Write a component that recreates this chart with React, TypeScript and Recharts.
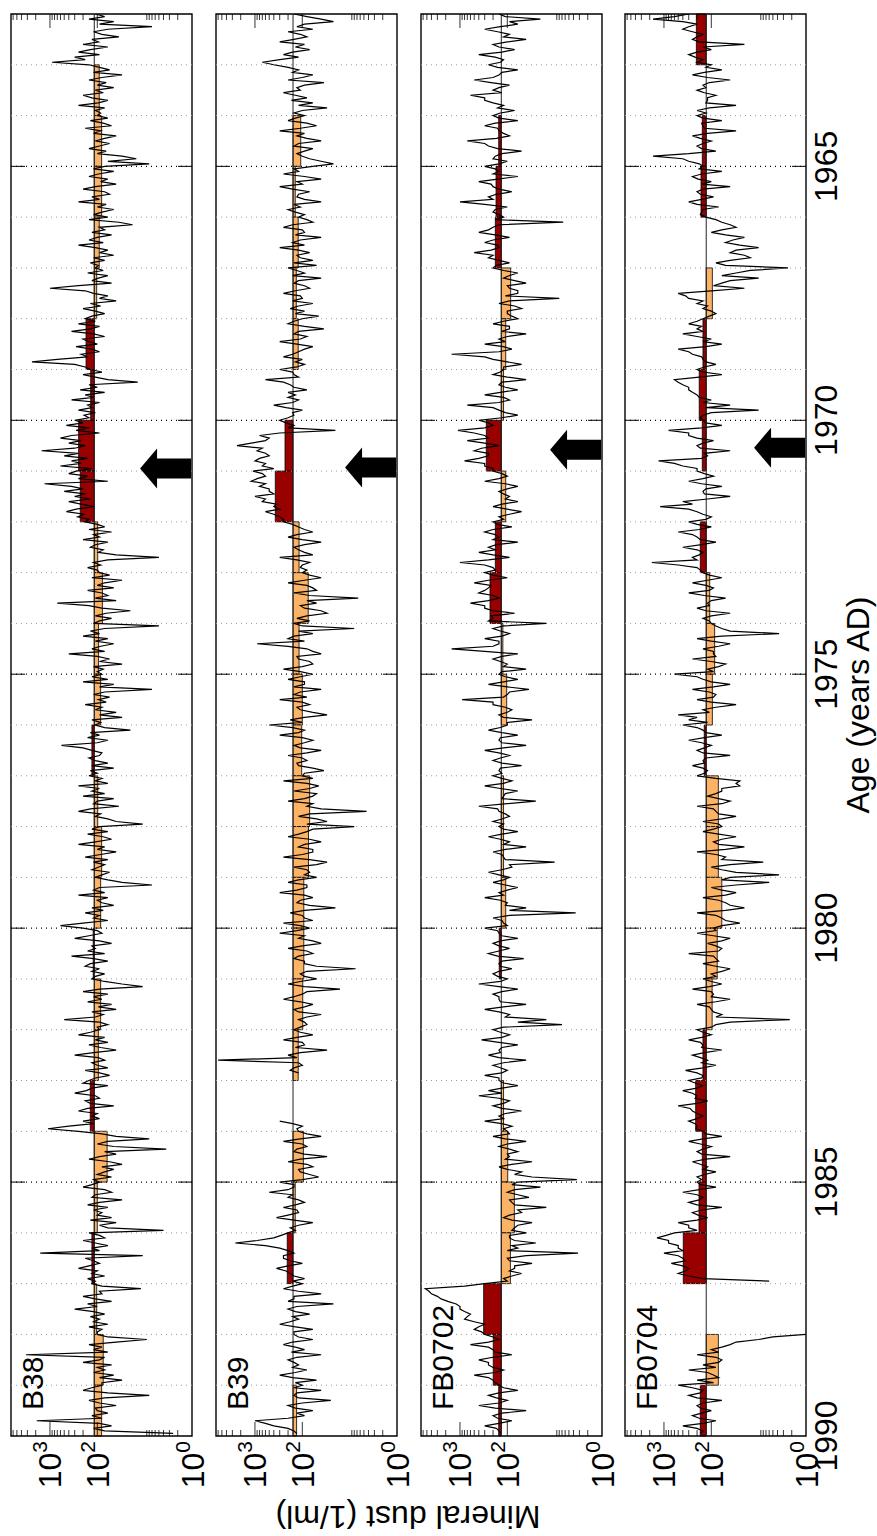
import React from 'react'
import { LineChart, Line, XAxis, YAxis, ReferenceArea, ReferenceLine, ReferenceDot } from 'recharts'

const FONT = 'Liberation Sans, Arial, sans-serif'

// sampling grid of the dust records (years AD)
const ageStart = 1962
const ageStep = 0.05

// mineral dust (1/ml), one row per year, 20 samples per year
const b38Dust = [
  110, 70, 150, 45, 90, 7, 60, 120, 80, 35, 130, 95, 200, 60, 140, 250, 90, 300, 180, 900,
  150, 90, 55, 120, 30, 80, 150, 65, 100, 45, 110, 75, 200, 130, 60, 95, 250, 70, 110, 85,
  100, 60, 140, 75, 50, 180, 85, 120, 40, 70, 110, 55, 90, 150, 65, 100, 30, 15, 60, 8,
  70, 120, 45, 95, 150, 60, 85, 40, 110, 200, 70, 55, 130, 90, 250, 65, 100, 45, 80, 120,
  60, 150, 35, 18, 90, 70, 130, 50, 100, 150, 75, 250, 110, 60, 90, 45, 120, 70, 140, 95,
  110, 75, 160, 60, 95, 130, 50, 250, 1000, 180, 120, 60, 90, 40, 140, 85, 200, 110, 70, 130,
  180, 110, 250, 90, 140, 350, 120, 70, 200, 150, 100, 280, 130, 90, 220, 160, 700, 2400, 300, 180,
  140, 80, 200, 110, 60, 14, 150, 100, 230, 70, 180, 120, 350, 90, 160, 130, 250, 110, 190, 150,
  300, 200, 450, 150, 280, 90, 350, 600, 220, 400, 180, 300, 1500, 250, 500, 160, 350, 220, 600, 130,
  280, 400, 160, 250, 60, 1300, 350, 200, 500, 180, 300, 140, 400, 220, 120, 280, 450, 190, 260, 150,
  180, 100, 70, 150, 50, 120, 90, 200, 60, 110, 140, 75, 95, 40, 5, 60, 120, 85, 160, 100,
  90, 55, 130, 30, 70, 100, 45, 160, 80, 60, 110, 40, 700, 150, 80, 20, 65, 110, 50, 90,
  120, 5, 70, 140, 90, 200, 60, 110, 45, 85, 130, 70, 400, 100, 55, 90, 30, 120, 75, 100,
  80, 130, 60, 200, 45, 90, 7, 70, 120, 55, 95, 65, 180, 80, 110, 40, 90, 30, 130, 85,
  110, 70, 20, 140, 90, 160, 60, 100, 570, 200, 130, 80, 90, 150, 110, 60, 130, 45, 140, 100,
  150, 80, 110, 60, 250, 90, 130, 70, 200, 45, 100, 120, 35, 140, 250, 85, 110, 60, 40, 11,
  90, 130, 60, 160, 75, 50, 110, 250, 70, 100, 40, 85, 180, 60, 120, 70, 95, 130, 55, 80,
  110, 60, 30, 7, 90, 120, 70, 250, 60, 100, 80, 45, 130, 75, 180, 90, 120, 60, 200, 600,
  200, 100, 80, 150, 300, 90, 50, 130, 110, 160, 70, 350, 120, 60, 140, 180, 90, 130, 70, 110,
  130, 70, 30, 11, 90, 200, 60, 120, 80, 160, 50, 95, 40, 130, 75, 110, 500, 90, 60, 100,
  90, 140, 250, 70, 110, 60, 150, 85, 40, 120, 300, 95, 70, 130, 100, 60, 180, 90, 55, 110,
  150, 200, 60, 130, 170, 300, 110, 90, 180, 140, 45, 160, 250, 100, 130, 90, 200, 120, 400, 1100,
  250, 80, 40, 8, 60, 100, 45, 3.5, 70, 40, 90, 150, 55, 30, 80, 45, 70, 100, 50, 120,
  90, 130, 200, 70, 50, 110, 130, 30, 90, 160, 60, 120, 80, 100, 50, 140, 40, 90, 60, 4,
  150, 90, 70, 200, 110, 60, 130, 90, 1600, 11, 180, 120, 90, 150, 250, 100, 130, 70, 160, 110,
  130, 80, 12, 90, 80, 200, 110, 50, 160, 100, 300, 120, 70, 140, 90, 120, 60, 150, 80, 100,
  100, 60, 9, 40, 150, 80, 120, 60, 3200, 70, 90, 200, 50, 100, 70, 120, 45, 90, 30, 80,
  80, 130, 200, 60, 8, 70, 150, 90, 40, 110, 100, 60, 130, 80, 1900, 90, 50, 120, 70, 2.5,
]

const b39Dust = [
  150, 80, 40, 22, 90, 130, 60, 200, 110, 80, 150, 300, 90, 140, 70, 160, 250, 120, 300, 700,
  400, 200, 120, 160, 60, 100, 200, 35, 90, 130, 110, 250, 140, 80, 170, 60, 120, 30, 100, 150,
  90, 140, 200, 80, 50, 110, 300, 90, 130, 80, 40, 120, 150, 60, 90, 130, 100, 70, 40, 22,
  60, 150, 120, 250, 90, 40, 130, 100, 300, 160, 70, 120, 130, 90, 40, 150, 110, 200, 140, 90,
  120, 80, 60, 160, 250, 100, 90, 140, 40, 110, 160, 90, 300, 120, 70, 130, 110, 60, 150, 50,
  200, 130, 90, 160, 40, 120, 150, 90, 70, 140, 250, 110, 100, 160, 60, 120, 180, 90, 140, 45,
  100, 150, 200, 90, 35, 120, 150, 80, 110, 300, 130, 60, 90, 120, 160, 250, 100, 140, 90, 130,
  300, 160, 150, 120, 600, 250, 180, 150, 80, 200, 140, 200, 120, 160, 400, 220, 100, 160, 150, 200,
  300, 220, 150, 200, 20, 300, 800, 500, 600, 1200, 2400, 700, 900, 600, 500, 800, 1000, 600, 700, 400,
  1100, 700, 600, 900, 1200, 600, 800, 500, 500, 400, 1000, 600, 700, 350, 400, 300, 600, 400, 300, 250,
  250, 160, 120, 90, 60, 130, 200, 100, 40, 90, 150, 120, 90, 60, 300, 130, 70, 100, 110, 80,
  100, 70, 40, 90, 200, 80, 60, 50, 150, 70, 6.6, 80, 50, 110, 90, 40, 30, 80, 130, 70,
  150, 100, 8, 120, 60, 150, 200, 90, 900, 200, 80, 60, 40, 130, 120, 70, 60, 100, 250, 110,
  60, 110, 200, 90, 90, 150, 40, 110, 150, 80, 300, 100, 70, 130, 110, 60, 30, 90, 180, 100,
  500, 160, 90, 120, 300, 100, 60, 90, 150, 110, 40, 80, 200, 100, 80, 130, 120, 60, 35, 90,
  100, 60, 250, 80, 45, 70, 150, 50, 60, 90, 200, 60, 80, 40, 4.4, 70, 120, 50, 30, 80,
  8, 60, 80, 120, 200, 70, 40, 90, 120, 60, 60, 100, 250, 70, 30, 50, 150, 80, 70, 90,
  50, 120, 200, 80, 80, 130, 300, 90, 60, 110, 130, 70, 20, 90, 180, 100, 90, 60, 250, 110,
  70, 130, 300, 90, 120, 60, 40, 100, 200, 80, 60, 120, 150, 90, 90, 50, 7.5, 80, 110, 90,
  50, 110, 200, 90, 16, 80, 100, 150, 250, 110, 60, 90, 150, 120, 40, 80, 120, 90, 80, 110,
  150, 110, 60, 130, 250, 100, 90, 140, 30, 110, 200, 130, 6000, 120, 100, 150, 180, 120, null, null,
  null, null, null, null, null, null, null, null, null, null, null, null, null, null, null, null, 300, 160, 100, 130,
  120, 80, 40, 110, 250, 100, 80, 130, 150, 90, 30, 110, 200, 80, 60, 120, 110, 70, 45, 100,
  300, 150, 150, 200, 500, 160, 200, 120, 90, 140, 250, 130, 120, 200, 350, 150, 60, 120, 180, 140,
  200, 280, 400, 900, 2600, 600, 300, 200, 150, 250, 250, 180, 100, 200, 350, 220, 180, 150, 90, 160,
  100, 160, 250, 120, 40, 150, 150, 200, 22, 130, 200, 140, 70, 160, 120, 180, 300, 140, 60, 150,
  150, 120, 60, 160, 250, 140, 90, 170, 40, 130, 200, 150, 120, 160, 80, 140, 300, 160, 50, 140,
  100, 150, 40, 130, 150, 120, 25, 100, 200, 140, 60, 130, 90, 200, 1000, 600, 400, 200, 150, 130,
]

const fb0702Dust = [
  150, 110, 20, 90, 60, 140, 300, 160, 90, 120, 40, 100, 200, 150, 70, 130, 400, 180, 120, 140,
  250, 160, 60, 130, 150, 200, 500, 220, 90, 150, 200, 130, 600, 300, 300, 200, 120, 160, 70, 140,
  200, 150, 60, 180, 300, 160, 150, 120, 90, 170, 700, 300, 250, 160, 50, 130, 180, 200, 100, 150,
  300, 180, 150, 200, 60, 160, 400, 220, 200, 150, 80, 170, 250, 200, 1000, 300, 100, 180, 200, 150,
  120, 180, 6.6, 150, 200, 250, 400, 180, 90, 200, 300, 160, 150, 220, 500, 200, 250, 150, 90, 170,
  200, 120, 60, 90, 120, 70, 40, 100, 90, 60, 60, 110, 8, 90, 150, 70, 50, 100, 100, 80,
  60, 120, 200, 90, 90, 130, 40, 100, 150, 110, 300, 120, 80, 150, 1500, 300, 200, 100, 50, 120,
  120, 140, 200, 100, 40, 130, 150, 110, 60, 140, 300, 120, 90, 150, 700, 200, 150, 110, 60, 130,
  400, 250, 200, 300, 1100, 500, 300, 250, 700, 300, 150, 350, 500, 250, 250, 400, 800, 300, 300, 200,
  200, 130, 100, 150, 300, 110, 60, 100, 150, 120, 90, 110, 60, 130, 200, 100, 50, 90, 150, 120,
  200, 160, 80, 200, 300, 180, 150, 200, 60, 170, 250, 180, 400, 200, 90, 250, 1000, 300, 200, 180,
  300, 200, 100, 250, 500, 220, 250, 300, 400, 200, 150, 250, 600, 300, 300, 200, 70, 220, 200, 250,
  15, 120, 200, 140, 90, 130, 300, 150, 150, 200, 1500, 300, 60, 130, 200, 140, 100, 120, 40, 130,
  150, 110, 60, 120, 250, 100, 35, 90, 100, 120, 900, 200, 200, 110, 80, 100, 150, 120, 30, 100,
  100, 140, 250, 130, 60, 140, 150, 130, 40, 120, 300, 150, 90, 140, 200, 130, 50, 140, 150, 130,
  200, 130, 80, 120, 300, 140, 60, 110, 120, 130, 25, 100, 400, 160, 150, 110, 90, 130, 200, 120,
  150, 120, 60, 130, 250, 140, 90, 120, 40, 110, 200, 130, 120, 110, 10, 90, 80, 130, 250, 150,
  90, 120, 200, 110, 60, 100, 150, 120, 300, 140, 100, 110, 40, 90, 3.6, 90, 200, 130, 120, 100,
  300, 160, 150, 130, 60, 140, 200, 150, 90, 150, 250, 160, 45, 130, 150, 140, 80, 150, 200, 160,
  100, 140, 400, 150, 60, 130, 200, 150, 150, 140, 40, 120, 300, 150, 90, 110, 15, 60, 7, 120,
  200, 140, 90, 130, 350, 150, 60, 130, 150, 140, 250, 150, 40, 120, 200, 140, 100, 130, 300, 150,
  150, 120, 60, 130, 250, 130, 400, 150, 90, 120, 200, 130, 50, 110, 150, 120, 300, 130, 80, 120,
  100, 90, 200, 110, 40, 100, 150, 90, 60, 100, 90, 110, 30, 80, 150, 100, 50, 70, 30, 3.4,
  60, 80, 20, 70, 100, 60, 35, 90, 80, 70, 15, 60, 50, 90, 120, 80, 30, 60, 70, 80,
  40, 90, 90, 70, 25, 80, 60, 100, 3.2, 40, 100, 90, 30, 70, 70, 90, 50, 80, 120, 100,
  300, 800, 5400, 4500, 4000, 3000, 2500, 1800, 1200, 1000, 1000, 800, 600, 700, 800, 500, 300, 400, 500, 350,
  300, 200, 150, 250, 600, 250, 200, 180, 80, 200, 400, 250, 250, 200, 120, 180, 500, 250, 200, 180,
  150, 120, 60, 150, 250, 170, 100, 150, 400, 180, 40, 130, 200, 160, 80, 150, 300, 170, 150, 140,
]

const fb0704Dust = [
  300, 600, 1700, 400, 200, 300, 400, 250, 150, 200, 250, 180, 20, 150, 100, 200, 300, 220, 150, 200,
  100, 130, 60, 140, 250, 120, 40, 110, 150, 130, 200, 140, 80, 120, 120, 130, 30, 110, 200, 130,
  200, 150, 60, 160, 150, 140, 30, 120, 250, 170, 100, 150, 200, 160, 80, 300, 1700, 400, 300, 180,
  150, 180, 60, 160, 250, 190, 100, 160, 40, 150, 200, 170, 90, 160, 300, 200, 70, 150, 160, 170,
  130, 80, 60, 40, 30, 60, 100, 50, 20, 35, 50, 25, 10, 30, 40, 20, 15, 40, 80, 50,
  2.4, 15, 30, 60, 10, 40, 60, 90, 20, 100, 500, 350, 300, 150, 200, 120, 150, 100, 80, 110,
  150, 200, 300, 160, 200, 150, 400, 200, 100, 150, 60, 130, 500, 300, 250, 160, 150, 130, 80, 140,
  200, 150, 60, 180, 600, 500, 400, 300, 300, 250, 200, 180, 100, 150, 40, 130, 10, 100, 150, 170,
  150, 130, 60, 160, 800, 300, 300, 200, 90, 150, 200, 170, 40, 140, 120, 160, 1300, 600, 400, 200,
  200, 140, 90, 150, 300, 160, 60, 130, 150, 140, 40, 120, 400, 250, 1200, 300, 200, 150, 100, 130,
  300, 200, 100, 180, 500, 250, 200, 170, 80, 160, 400, 200, 150, 180, 250, 200, 1800, 500, 200, 170,
  150, 110, 60, 120, 250, 130, 90, 110, 300, 140, 50, 100, 120, 110, 200, 130, 40, 100, 150, 110,
  100, 80, 60, 40, 3.7, 60, 200, 100, 40, 70, 150, 90, 90, 80, 250, 100, 50, 70, 120, 90,
  600, 200, 150, 100, 40, 90, 250, 110, 80, 90, 200, 100, 30, 80, 150, 110, 500, 200, 300, 120,
  400, 200, 150, 130, 60, 140, 300, 160, 100, 140, 200, 150, 40, 130, 150, 140, 250, 150, 120, 140,
  200, 80, 25, 30, 25, 60, 60, 80, 120, 70, 40, 60, 200, 90, 80, 70, 30, 60, 150, 70,
  60, 90, 150, 70, 30, 60, 90, 70, 20, 50, 200, 80, 50, 60, 8, 40, 100, 60, 30, 3.7,
  40, 60, 6, 30, 100, 60, 30, 50, 150, 70, 50, 40, 20, 50, 200, 80, 60, 50, 25, 60,
  90, 80, 200, 90, 40, 60, 120, 80, 60, 70, 300, 90, 80, 70, 150, 80, 40, 60, 100, 80,
  150, 100, 60, 110, 250, 100, 90, 100, 40, 80, 200, 110, 100, 90, 60, 80, 2.2, 40, 80, 100,
  200, 150, 100, 160, 300, 170, 150, 160, 60, 140, 250, 170, 120, 160, 80, 150, 350, 200, 150, 160,
  300, 220, 150, 200, 400, 250, 200, 220, 120, 200, 500, 280, 250, 200, 150, 200, 300, 220, 200, 210,
  150, 130, 60, 150, 300, 170, 100, 150, 200, 160, 40, 130, 250, 170, 120, 150, 80, 140, 200, 160,
  200, 170, 80, 180, 400, 200, 150, 180, 300, 200, 60, 160, 250, 190, 120, 200, 500, 300, 300, 200,
  600, 900, 1400, 800, 800, 500, 500, 400, 1000, 500, 400, 350, 700, 400, 300, 350, 500, 300, 150, 6,
  null, null, null, null, null, null, null, null, null, null, null, null, null, null, null, null, null, null, null, null,
  1, 5, 10, 30, 40, 60, 100, 70, 200, 80, 60, 70, 150, 80, 300, 120, 90, 70, 200, 90,
  500, 250, 150, 170, 300, 200, 60, 150, 200, 170, 100, 160, 250, 180, 80, 150, 400, 200, 150, 170,
]

// annual means (bars), one per year starting at 1962
const barYears = [
  1962, 1963, 1964, 1965, 1966, 1967, 1968, 1969, 1970, 1971,
  1972, 1973, 1974, 1975, 1976, 1977, 1978, 1979, 1980, 1981,
  1982, 1983, 1984, 1985, 1986, 1987, 1988, 1989,
]
const b38Means = [
  null, 91, 81, 81, 91, 103, 173, 138, 248, 229,
  98, 78, 94, 85, 130, 98, 81, 85, 122, 85,
  95, 141, 62, 100, 130, 103, 75, 81,
]
const b39Means = [
  null, null, 108, 141, 122, 134, 122, null, 232, 372,
  117, 75, 117, 100, 103, 70, 74, 93, 93, 98,
  122, null, 95, 141, 208, null, null, 132,
]
const fb0702Means = [
  null, null, 152, 173, 179, 85, 108, 120, 278, 108,
  179, 232, 124, 103, null, 120, 120, 108, 148, null,
  null, 120, 98, 71, 86, 316, 198, 152,
]
const fb0704Means = [
  207, null, 155, 165, null, 95, 150, 180, 155, null,
  171, 108, 85, 95, 141, 71, 71, 60, 75, 96,
  150, 214, 155, 182, 391, null, 71, 171,
]

const panelNames = ['B38', 'B39', 'FB0702', 'FB0704']
const panelBaselines = [116, 157, 134, 128]
const arrowAges = [1970.95, 1970.93, 1970.58, 1970.54]
const arrowDust = 12.5

const dustDomain = [1, 6650]
const ageDomain = [1962, 1990]
const dustTicks = [
  1, 2, 3, 4, 5, 6, 7, 8, 9,
  100, 200, 300, 400, 500, 600, 700, 800, 900,
  1000, 2000, 3000, 4000, 5000, 6000,
]
const dustExp: Record<number, string> = { 1: '0', 100: '2', 1000: '3' }
const yearLabels = [1965, 1970, 1975, 1980, 1985, 1990]
const gridYears = barYears.slice(1)

const PLOT_W = 181
const PLOT_H = 1422
const chartLefts = [0, 205, 410, 614]

const decadePx = PLOT_W / Math.log10(dustDomain[1])
const edgeDec = 14 / decadePx

function DustTick(props: any) {
  const { x, y, payload } = props
  const v = payload.value
  const len = v === 1000 || v === 100 ? 14 : 6
  const top = y - PLOT_H
  const exp = dustExp[v]
  return (
    <g>
      {v !== 1 && (
        <>
          <line x1={x} x2={x} y1={y} y2={y - len} stroke="#000" strokeWidth={0.8} />
          <line x1={x} x2={x} y1={top} y2={top + len} stroke="#000" strokeWidth={0.8} />
        </>
      )}
      {exp && (
        <text
          transform={`translate(${x + 11.5} ${y + 5}) rotate(-90)`}
          textAnchor="end"
          fontSize={32}
          fontFamily={FONT}
          fill="#000"
        >
          10<tspan dy={-14} fontSize={21}>{exp}</tspan>
        </text>
      )}
    </g>
  )
}

function YearTick(props: any) {
  const { x, y, payload } = props
  return (
    <text
      transform={`translate(${x + 31} ${y}) rotate(-90)`}
      textAnchor="middle"
      fontSize={32}
      fontFamily={FONT}
      fill="#000"
    >
      {payload.value}
    </text>
  )
}

const Arrow = (props: any) => {
  const { cx, cy } = props
  const pts = [[0, 0], [17, -20], [17, -10], [51, -10], [51, 10], [17, 10], [17, 20]]
    .map(([dx, dy]) => `${cx + dx},${cy + dy}`)
    .join(' ')
  return <polygon points={pts} fill="#000" />
}

// split a record at its gaps so that the line is not drawn across them
function splitAtGaps(rows: { age: number; dust: number | null }[]) {
  const parts: { age: number; dust: number | null }[][] = []
  let cur: { age: number; dust: number | null }[] = []
  rows.forEach((r) => {
    if (r.dust == null) {
      if (cur.length) parts.push(cur)
      cur = []
    } else {
      cur.push(r)
    }
  })
  if (cur.length) parts.push(cur)
  return parts
}

function Panel({ dust, means, baseline, arrowAge, last }: any) {
  const rows = dust.map((d: number | null, i: number) => ({
    age: +(ageStart + i * ageStep).toFixed(2),
    dust: d,
  }))
  const parts = splitAtGaps(rows)
  const width = last ? 263 : 215
  return (
    <LineChart
      layout="vertical"
      width={width}
      height={1536}
      data={rows}
      margin={{ top: 14, right: last ? 11 : 23, bottom: 70, left: 11 }}
    >
      <XAxis
        type="number"
        scale="log"
        domain={dustDomain}
        reversed
        allowDataOverflow
        ticks={dustTicks}
        interval={0}
        tick={<DustTick />}
        tickLine={false}
        axisLine={false}
        tickSize={0}
        tickMargin={0}
        height={30}
      />
      <YAxis
        type="number"
        dataKey="age"
        domain={ageDomain}
        allowDataOverflow
        hide={!last}
        orientation="right"
        width={60}
        ticks={yearLabels}
        interval={0}
        tick={<YearTick />}
        tickLine={false}
        axisLine={false}
        tickSize={0}
        tickMargin={0}
      />
      {gridYears.map((yr) => (
        <ReferenceLine
          key={'g' + yr}
          y={yr}
          stroke={yr % 5 === 0 ? '#000' : '#9a9a9a'}
          strokeWidth={yr % 5 === 0 ? 1.2 : 1}
          strokeDasharray="1 4"
        />
      ))}
      {yearLabels.filter((yr) => yr < 1990).map((yr) => (
        <ReferenceLine
          key={'l' + yr}
          segment={[{ x: dustDomain[1], y: yr }, { x: Math.pow(10, Math.log10(dustDomain[1]) - edgeDec), y: yr }]}
          stroke="#000"
          strokeWidth={1}
        />
      ))}
      {yearLabels.filter((yr) => yr < 1990).map((yr) => (
        <ReferenceLine
          key={'r' + yr}
          segment={[{ x: dustDomain[0], y: yr }, { x: Math.pow(10, edgeDec), y: yr }]}
          stroke="#000"
          strokeWidth={1}
        />
      ))}
      {barYears.map((yr, i) =>
        means[i] == null ? null : (
          <ReferenceArea
            key={'b' + yr}
            x1={baseline}
            x2={means[i]}
            y1={yr}
            y2={yr + 1}
            fill={means[i] > baseline ? '#990000' : '#fdb366'}
            fillOpacity={1}
            stroke="#000"
            strokeWidth={0.8}
          />
        )
      )}
      <ReferenceLine x={baseline} stroke="#222" strokeWidth={1} />
      {parts.map((p, k) => (
        <Line
          key={'s' + k}
          data={p}
          dataKey="dust"
          stroke="#000"
          strokeWidth={1.2}
          dot={false}
          isAnimationActive={false}
        />
      ))}
      <ReferenceDot x={arrowDust} y={arrowAge} r={1} shape={Arrow} ifOverflow="visible" />
      <ReferenceArea
        x1={dustDomain[0]}
        x2={dustDomain[1]}
        y1={ageDomain[0]}
        y2={ageDomain[1]}
        fill="none"
        stroke="#000"
        strokeWidth={1.4}
      />
    </LineChart>
  )
}

export default function App() {
  const dusts = [b38Dust, b39Dust, fb0702Dust, fb0704Dust]
  const means = [b38Means, b39Means, fb0702Means, fb0704Means]
  return (
    <div style={{ position: 'absolute', left: 0, top: 0, width: 877, height: 1536, background: '#fff' }}>
      <style>{'.recharts-surface { overflow: visible; }'}</style>
      {dusts.map((d, i) => (
        <div key={panelNames[i]} style={{ position: 'absolute', left: chartLefts[i], top: 0 }}>
          <Panel
            dust={d}
            means={means[i]}
            baseline={panelBaselines[i]}
            arrowAge={arrowAges[i]}
            last={i === 3}
          />
        </div>
      ))}
      <svg
        width={877}
        height={1536}
        style={{ position: 'absolute', left: 0, top: 0, pointerEvents: 'none' }}
        fontFamily={FONT}
      >
        {panelNames.map((n, i) => (
          <text
            key={n}
            transform={`translate(${chartLefts[i] + 43} 1410) rotate(-90)`}
            fontSize={30}
            fill="#000"
          >
            {n}
          </text>
        ))}
        <text transform="translate(408 1506) rotate(180)" textAnchor="middle" fontSize={32} fill="#000">
          Mineral dust (1/ml)
        </text>
        <text transform="translate(869 705) rotate(-90)" textAnchor="middle" fontSize={32} fill="#000">
          Age (years AD)
        </text>
      </svg>
    </div>
  )
}
